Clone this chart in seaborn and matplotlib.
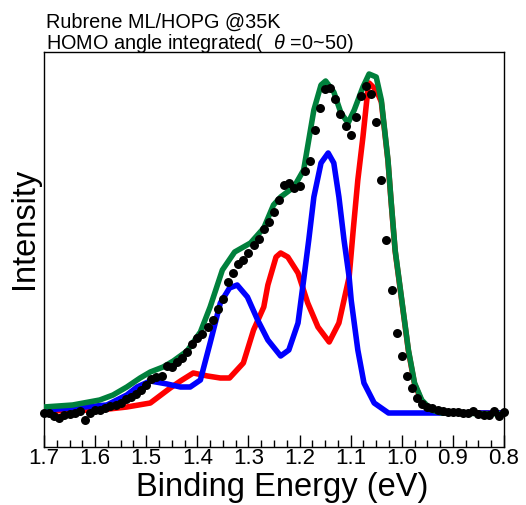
import numpy as np
import pandas as pd
import matplotlib
matplotlib.use("Agg")
import matplotlib.pyplot as plt
from matplotlib.ticker import MultipleLocator
import seaborn as sns

# ---- data (binding energy in eV, intensity in arb. units) ----
dot_energy = [1.70, 1.69, 1.68, 1.67, 1.66, 1.65, 1.64, 1.63, 1.62, 1.61,
              1.60, 1.59, 1.58, 1.57, 1.56, 1.55, 1.54, 1.53, 1.52, 1.51,
              1.50, 1.49, 1.48, 1.47, 1.46, 1.45, 1.44, 1.43, 1.42, 1.41,
              1.40, 1.39, 1.38, 1.37, 1.36, 1.35, 1.34, 1.33, 1.32, 1.31,
              1.30, 1.29, 1.28, 1.27, 1.26, 1.25, 1.24, 1.23, 1.22, 1.21,
              1.20, 1.19, 1.18, 1.17, 1.16, 1.15, 1.14, 1.13, 1.12, 1.11,
              1.10, 1.09, 1.08, 1.07, 1.06, 1.05, 1.04, 1.03, 1.02, 1.01,
              1.00, 0.99, 0.98, 0.97, 0.96, 0.95, 0.94, 0.93, 0.92, 0.91,
              0.90, 0.89, 0.88, 0.87, 0.86, 0.85, 0.84, 0.83, 0.82, 0.81,
              0.80]
dot_intensity = [34, 34, 31, 29, 32, 33, 34, 36, 27, 34,
                 37, 37, 39, 41, 42, 44, 48, 50, 53, 57,
                 62, 68, 70, 71, 81, 80, 85, 89, 95, 103,
                 109, 113, 120, 127, 138, 148, 165, 174, 183, 187,
                 194, 202, 208, 218, 225, 235, 247, 262, 264, 259,
                 261, 276, 286, 317, 339, 358, 359, 348, 333, 321,
                 312, 330, 351, 361, 353, 325, 267, 207, 157, 114,
                 91, 71, 59, 49, 43, 40, 39, 37, 36, 35,
                 35, 35, 34, 34, 36, 33, 32, 32, 36, 31,
                 35]

red_energy = [1.700, 1.591, 1.538, 1.492, 1.453, 1.433, 1.408, 1.380, 1.355,
              1.337, 1.310, 1.290, 1.270, 1.262, 1.246, 1.237, 1.223, 1.203,
              1.184, 1.164, 1.142, 1.123, 1.103, 1.095, 1.086, 1.076, 1.066,
              1.064, 1.050, 1.040, 1.027, 1.021, 1.013, 1.000, 0.987, 0.975,
              0.961, 0.942, 0.922, 0.800]
red_intensity = [36, 37, 40, 44, 59, 66, 74, 71, 69,
                 69, 84, 117, 140, 162, 190, 194, 190, 174,
                 144, 120, 105, 124, 170, 217, 267, 310, 359,
                 364, 357, 345, 286, 246, 196, 146, 96, 63,
                 46, 36, 34, 34]

blue_energy = [1.700, 1.644, 1.577, 1.538, 1.518, 1.492, 1.459, 1.433, 1.414,
               1.394, 1.375, 1.355, 1.337, 1.322, 1.302, 1.282, 1.262, 1.237,
               1.221, 1.203, 1.192, 1.182, 1.172, 1.158, 1.144, 1.133, 1.123,
               1.113, 1.103, 1.099, 1.086, 1.074, 1.054, 1.026, 0.800]
blue_intensity = [37, 39, 42, 52, 60, 66, 63, 60, 60,
                  67, 104, 144, 159, 162, 150, 127, 107, 91,
                  97, 124, 167, 207, 250, 284, 294, 284, 250,
                  207, 170, 147, 97, 64, 44, 34, 34]

green_energy = [1.700, 1.644, 1.591, 1.565, 1.538, 1.512, 1.492, 1.467, 1.447,
                1.420, 1.394, 1.375, 1.351, 1.327, 1.296, 1.270, 1.251, 1.237,
                1.211, 1.192, 1.172, 1.158, 1.149, 1.133, 1.119, 1.105, 1.093,
                1.076, 1.064, 1.050, 1.040, 1.027, 1.021, 1.013, 1.000, 0.987,
                0.975, 0.961, 0.942, 0.922, 0.800]
green_intensity = [40, 42, 47, 52, 60, 69, 75, 80, 86,
                   96, 115, 140, 177, 195, 204, 219, 242, 250,
                   260, 277, 337, 362, 366, 355, 334, 324, 337,
                   360, 373, 370, 347, 287, 247, 197, 147, 97,
                   64, 47, 37, 34, 33]

tick_values = [1.7, 1.6, 1.5, 1.4, 1.3, 1.2, 1.1, 1.0, 0.9, 0.8]
title_lines = ["Rubrene ML/HOPG @35K", "HOMO angle integrated(  $\\theta$ =0~50)"]
x_label = "Binding Energy (eV)"
y_label = "Intensity"

# ---- styling ----
sns.set_theme(style="white")
plt.rcParams["font.family"] = ["Liberation Sans", "DejaVu Sans"]
plt.rcParams["mathtext.fontset"] = "custom"
plt.rcParams["mathtext.it"] = "Liberation Sans:italic"
plt.rcParams["mathtext.rm"] = "Liberation Sans"
plt.rcParams["lines.solid_joinstyle"] = "round"
plt.rcParams["lines.solid_capstyle"] = "round"

fig = plt.figure(figsize=(5.26, 5.05), dpi=100)
ax = fig.add_axes([44 / 526, 1 - 447 / 505, 460 / 526, 395 / 505])

lw = 4.0
sns.lineplot(x=red_energy, y=red_intensity, color="#ff0000", linewidth=lw, ax=ax, zorder=2)
sns.lineplot(x=blue_energy, y=blue_intensity, color="#0000ff", linewidth=lw, ax=ax, zorder=3)
sns.lineplot(x=green_energy, y=green_intensity, color="#00803c", linewidth=lw, ax=ax, zorder=4)
sns.scatterplot(x=dot_energy, y=dot_intensity, color="black", s=42, linewidth=0,
                ax=ax, zorder=5, clip_on=False)

ax.set_xlim(1.7, 0.8)
ax.set_ylim(0, 395)
ax.xaxis.set_minor_locator(MultipleLocator(0.025))
ax.set_xticks(tick_values)
ax.set_xticklabels([f"{v:.1f}" for v in tick_values])
ax.set_yticks([])
ax.tick_params(axis="x", which="major", direction="in", length=8.6, width=1,
               color="black", labelsize=16, pad=0.5, bottom=True, top=False,
               labelcolor="black")
ax.tick_params(axis="x", which="minor", direction="in", length=5, width=1,
               color="black", bottom=True, top=False)
for s in ax.spines.values():
    s.set_color("black")
    s.set_linewidth(1)
    s.set_visible(True)

ax.set_xlabel(x_label, fontsize=23.5, color="black")
ax.set_ylabel(y_label, fontsize=23.5, color="black")
ax.xaxis.set_label_coords(0.517, -0.064)
ax.yaxis.set_label_coords(-0.008, 0.554)

fig.text(46 / 526, 1 - 28 / 505, title_lines[0], fontsize=14.3, color="black",
         ha="left", va="baseline")
fig.text(46 / 526, 1 - 49 / 505, title_lines[1], fontsize=14.3, color="black",
         ha="left", va="baseline")

fig.savefig("out.png", dpi=100)
